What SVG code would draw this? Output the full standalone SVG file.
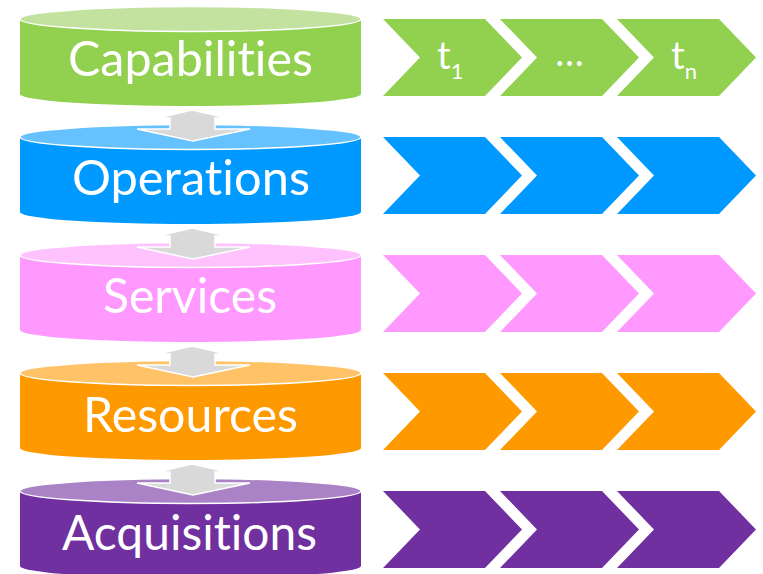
<svg xmlns="http://www.w3.org/2000/svg" width="763" height="574" viewBox="0 0 763 574">
<style>
.top{stroke:#fff;stroke-width:1.5}
.lbl{font-family:Lato,"Open Sans","Liberation Sans",sans-serif;fill:#fff;font-size:48px;text-anchor:middle;font-variant-ligatures:none;font-feature-settings:"liga" 0,"dlig" 0}
.ct{font-family:Lato,"Open Sans","Liberation Sans",sans-serif;fill:#fff;font-size:38px}
.arr{fill:#D9D9D9;stroke:#fff;stroke-width:1.5;stroke-linejoin:miter}
.g{fill:#92D050}.gl{fill:#C3E2A0}
.b{fill:#0099FF}.bl{fill:#66C2FF}
.p{fill:#FF99FF}.pl{fill:#FFC2FF}
.o{fill:#FF9900}.ol{fill:#FFC266}
.v{fill:#7030A0}.vl{fill:#A983C6}
</style>
<defs>
<polygon id="chev" points="0,0 102,0 139,38.5 102,77 0,77 37,38.5"/>
</defs>

<g id="capabilities">
<path class="g" d="M20,19 L20,94 A170.5,12 0 0 0 361,94 L361,19 Z"/>
<ellipse class="top gl" cx="190.5" cy="19" rx="170.5" ry="12.5"/>
<text class="lbl" x="190.5" y="76" textLength="245" lengthAdjust="spacingAndGlyphs">Capabilities</text>
</g>
<g id="operations">
<path class="b" d="M20,137 L20,212 A170.5,12 0 0 0 361,212 L361,137 Z"/>
<ellipse class="top bl" cx="190.5" cy="137" rx="170.5" ry="12.5"/>
<text class="lbl" x="191" y="195" textLength="238" lengthAdjust="spacingAndGlyphs">Operations</text>
</g>
<g id="services">
<path class="p" d="M20,255 L20,330 A170.5,12 0 0 0 361,330 L361,255 Z"/>
<ellipse class="top pl" cx="190.5" cy="255" rx="170.5" ry="12.5"/>
<text class="lbl" x="190" y="313" textLength="174" lengthAdjust="spacingAndGlyphs">Services</text>
</g>
<g id="resources">
<path class="o" d="M20,373 L20,448 A170.5,12 0 0 0 361,448 L361,373 Z"/>
<ellipse class="top ol" cx="190.5" cy="373" rx="170.5" ry="12.5"/>
<text class="lbl" x="190.5" y="432" textLength="215" lengthAdjust="spacingAndGlyphs">Resources</text>
</g>
<g id="acquisitions">
<path class="v" d="M20,491 L20,566 A170.5,12 0 0 0 361,566 L361,491 Z"/>
<ellipse class="top vl" cx="190.5" cy="491" rx="170.5" ry="12.5"/>
<text class="lbl" x="189.5" y="550" textLength="255" lengthAdjust="spacingAndGlyphs">Acquisitions</text>
</g>

<g id="connectors">
<polygon class="arr" points="192,110 227,118 215,118 215,129 250,129 193,141 137,129 170,129 170,118 158,118"/>
<polygon class="arr" points="192,228 227,236 215,236 215,247 250,247 193,259 137,247 170,247 170,236 158,236"/>
<polygon class="arr" points="192,346 227,354 215,354 215,365 250,365 193,377 137,365 170,365 170,354 158,354"/>
<polygon class="arr" points="192,464 227,472 215,472 215,483 250,483 193,495 137,483 170,483 170,472 158,472"/>
</g>

<g id="timeline-capabilities">
<use href="#chev" class="g" x="383" y="19"/>
<use href="#chev" class="g" x="500" y="19"/>
<use href="#chev" class="g" x="617" y="19"/>
<text class="ct" x="437" y="69">t<tspan font-size="22" dy="10">1</tspan></text>
<text class="ct" x="569.5" y="66" text-anchor="middle">…</text>
<text class="ct" x="671" y="69">t<tspan font-size="22" dy="10">n</tspan></text>
</g>
<g id="timeline-operations">
<use href="#chev" class="b" x="383" y="137"/>
<use href="#chev" class="b" x="500" y="137"/>
<use href="#chev" class="b" x="617" y="137"/>
</g>
<g id="timeline-services">
<use href="#chev" class="p" x="383" y="255"/>
<use href="#chev" class="p" x="500" y="255"/>
<use href="#chev" class="p" x="617" y="255"/>
</g>
<g id="timeline-resources">
<use href="#chev" class="o" x="383" y="373"/>
<use href="#chev" class="o" x="500" y="373"/>
<use href="#chev" class="o" x="617" y="373"/>
</g>
<g id="timeline-acquisitions">
<use href="#chev" class="v" x="383" y="491"/>
<use href="#chev" class="v" x="500" y="491"/>
<use href="#chev" class="v" x="617" y="491"/>
</g>
</svg>
